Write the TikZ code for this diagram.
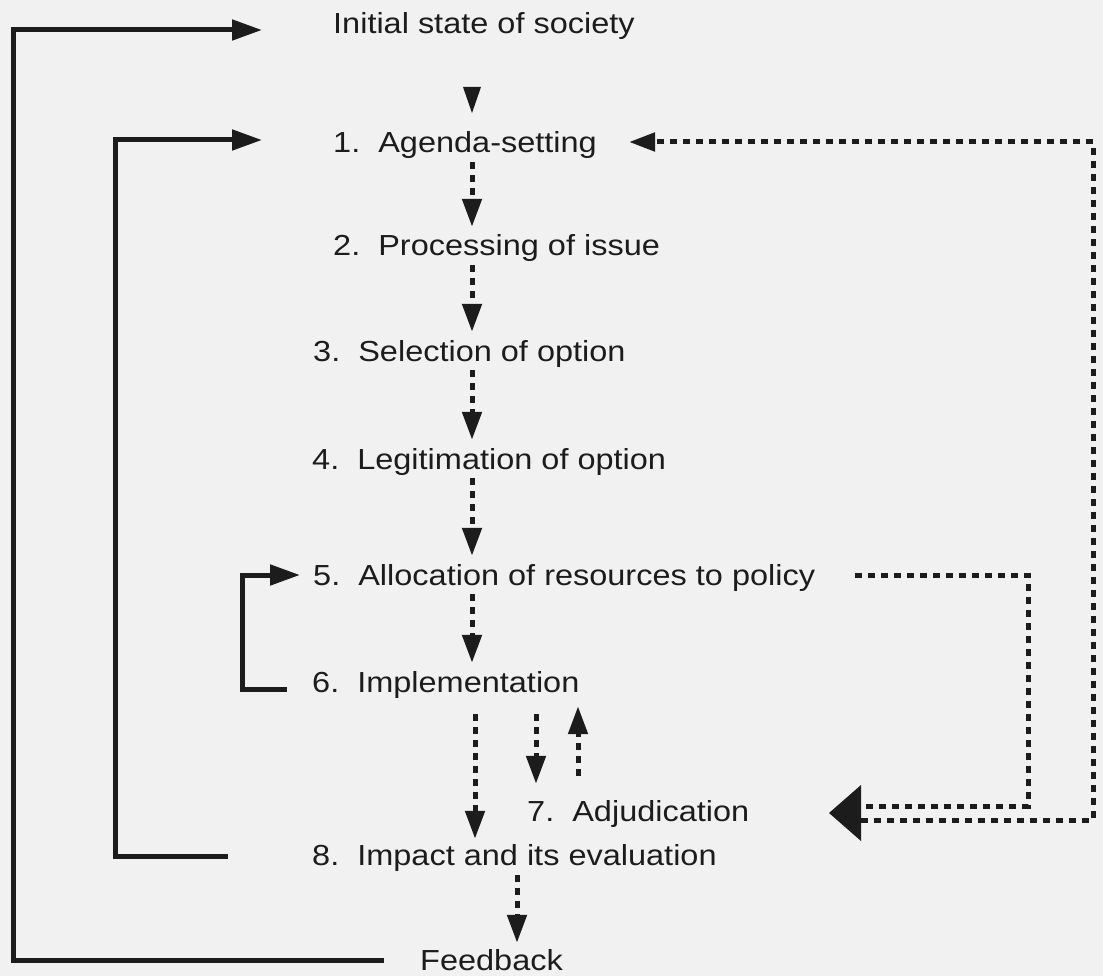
\documentclass[tikz,border=0pt]{standalone}
\usepackage{fontspec}
\setmainfont{Liberation Sans}[FakeStretch=1.12]
\usetikzlibrary{arrows.meta}
\definecolor{ink}{RGB}{28,28,28}
\definecolor{bg}{RGB}{241,241,241}
\begin{document}
\begin{tikzpicture}[x=1pt,y=-1pt,
  lbl/.style={anchor=base west, inner sep=0pt, font=\fontsize{29}{34}\selectfont, text=ink},
  solidline/.style={draw=ink, line width=5pt, line cap=butt, line join=miter},
  solidarr/.style={solidline, -{Triangle[length=30pt,width=20pt]}},
  dotline/.style={draw=ink, line width=5pt, dash pattern=on 7pt off 6pt, line cap=butt},
  dotarr/.style={dotline, -{Triangle[length=28pt,width=19pt]}},
  headtri/.style={fill=ink, draw=none}]
\fill[bg] (0,0) rectangle (1103,976);
\useasboundingbox (0,0) rectangle (1103,976);

% labels
\node[lbl] (init) at (333,34) {Initial state of society};
\node[lbl] (n1) at (333,153) {1.~~Agenda-setting};
\node[lbl] (n2) at (333,256) {2.~~Processing of issue};
\node[lbl] (n3) at (313,361) {3.~~Selection of option};
\node[lbl] (n4) at (312,469) {4.~~Legitimation of option};
\node[lbl] (n5) at (313,585) {5.~~Allocation of resources to policy};
\node[lbl] (n6) at (312,692) {6.~~Implementation};
\node[lbl] (n7) at (527,821) {7.~~Adjudication};
\node[lbl] (n8) at (312,865) {8.~~Impact and its evaluation};
\node[lbl] (fb) at (420,970) {Feedback};

% column reference
\coordinate (col) at (472,0);

% top arrowhead
\fill[headtri] (463,87) -- (481,87) -- (472,113) -- cycle;

% column dotted arrows
\draw[dotarr, shorten <=3pt, shorten >=8pt] (n1.south -| col) -- (n2.north -| col);
\draw[dotarr, shorten <=3pt, shorten >=8pt] (n2.south -| col) -- (n3.north -| col);
\draw[dotarr, shorten <=3pt, shorten >=8pt] (n3.south -| col) -- (n4.north -| col);
\draw[dotarr, shorten <=3pt, shorten >=8pt] (n4.south -| col) -- (n5.north -| col);
\draw[dotarr, shorten <=3pt, shorten >=8pt] (n5.south -| col) -- (n6.north -| col);

% below implementation
\coordinate (a8) at (475,0);
\coordinate (a7d) at (536,0);
\coordinate (a7u) at (578,0);
\draw[dotarr, shorten <=16pt, shorten >=5pt] (n6.south -| a8) -- (n8.north -| a8);
\draw[dotarr, shorten <=16pt, shorten >=16pt] (n6.south -| a7d) -- (n7.north -| a7d);
\draw[dotarr, shorten <=24pt, shorten >=8pt] (n7.north -| a7u) -- (n6.south -| a7u);

% feedback arrow
\coordinate (afb) at (517,0);
\draw[dotarr, shorten <=4pt, shorten >=6pt] (n8.south -| afb) -- (fb.north -| afb);

% outer solid loop
\coordinate (c1) at (13,960);
\coordinate (c2) at (13,30);
\draw[solidarr] ([xshift=-36pt]fb.west |- c1) -- (c1) -- (c2) -- ([xshift=-71pt]init.west |- c2);

% inner solid loop
\coordinate (d1) at (115,856);
\coordinate (d2) at (115,140);
\draw[solidarr] ([xshift=-84pt]n8.west |- d1) -- (d1) -- (d2) -- ([xshift=-71pt]n1.west |- d2);

% bracket 6 -> 5
\coordinate (e1) at (242,689);
\coordinate (e2) at (242,575);
\draw[solidarr] ([xshift=-25pt]n6.west |- e1) -- (e1) -- (e2) -- ([xshift=-13pt]n5.west |- e2);

% dotted right: allocation -> adjudication
\coordinate (f1) at (1028,575);
\coordinate (f2) at (1028,806);
\coordinate (adjtip) at (829,813);
\draw[dotline] ([xshift=40pt]n5.east |- f1) -- (f1) -- (f2) -- (861,806);

% dotted right: adjudication <-> agenda
\coordinate (g1) at (1093,820);
\coordinate (g2) at (1093,142);
\draw[dotline, -{Triangle[length=26pt,width=18pt]}] (861,820) -- (g1) -- (g2) -- ([xshift=32pt]n1.east |- g2);

% big arrowhead into adjudication
\fill[headtri] (adjtip) -- (861,785) -- (861,841) -- cycle;
\end{tikzpicture}
\end{document}
